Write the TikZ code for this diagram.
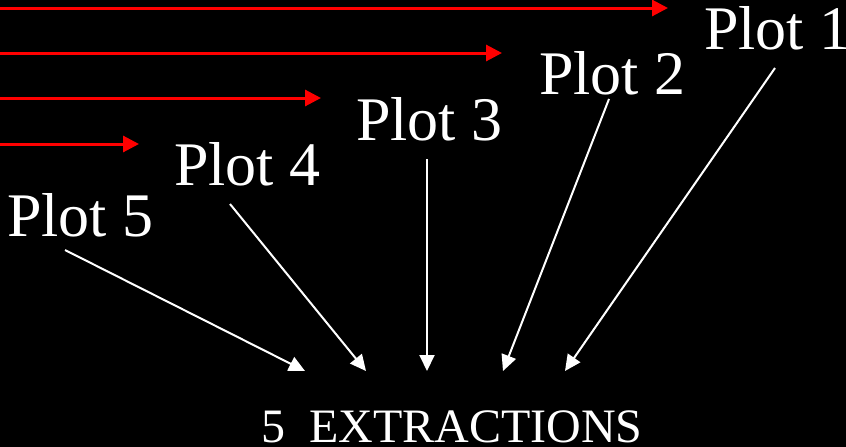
\documentclass[tikz,border=0pt]{standalone}
\usepackage{fontspec}
\setmainfont{Liberation Serif}
\usetikzlibrary{arrows.meta}
\begin{document}
\begin{tikzpicture}[x=1pt,y=-1pt,
  plotlabel/.style={anchor=base west,inner sep=0pt,text=white,font=\fontsize{62}{62}\selectfont},
  redarrow/.style={draw=red,line width=3pt,-{Triangle[length=16pt,width=16pt]}},
  whitearrow/.style={draw=white,line width=2pt,-{Triangle[length=16pt,width=15pt]}}]
\fill[black] (0,0) rectangle (846,447);
\useasboundingbox (0,0) rectangle (846,447);
% labels
\node[plotlabel] (p1) at (704,49) {Plot 1};
\node[plotlabel] (p2) at (539,94) {Plot 2};
\node[plotlabel] (p3) at (356,140) {Plot 3};
\node[plotlabel] (p4) at (174,185) {Plot 4};
\node[plotlabel] (p5) at (7,236) {Plot 5};
\node[anchor=base west,inner sep=0pt,text=white,font=\fontsize{48}{48}\selectfont] (ex) at (261,442) {5\ \ EXTRACTIONS};
% red arrows
\coordinate (r1s) at (0,8);   \coordinate (r1e) at (668,8);
\coordinate (r2s) at (0,53);  \coordinate (r2e) at (502,53);
\coordinate (r3s) at (0,98);  \coordinate (r3e) at (321,98);
\coordinate (r4s) at (0,144); \coordinate (r4e) at (139,144);
\draw[redarrow] (r1s) -- (r1e);
\draw[redarrow] (r2s) -- (r2e);
\draw[redarrow] (r3s) -- (r3e);
\draw[redarrow] (r4s) -- (r4e);
% white arrows
\coordinate (w1s) at (775,68);  \coordinate (w1e) at (565,371);
\coordinate (w2s) at (609,99);  \coordinate (w2e) at (503,371);
\coordinate (w3s) at (427,159); \coordinate (w3e) at (427,371);
\coordinate (w4s) at (230,204); \coordinate (w4e) at (366,371);
\coordinate (w5s) at (65,250);  \coordinate (w5e) at (305,371);
\draw[whitearrow] (w1s) -- (w1e);
\draw[whitearrow] (w2s) -- (w2e);
\draw[whitearrow] (w3s) -- (w3e);
\draw[whitearrow] (w4s) -- (w4e);
\draw[whitearrow] (w5s) -- (w5e);
\end{tikzpicture}
\end{document}
